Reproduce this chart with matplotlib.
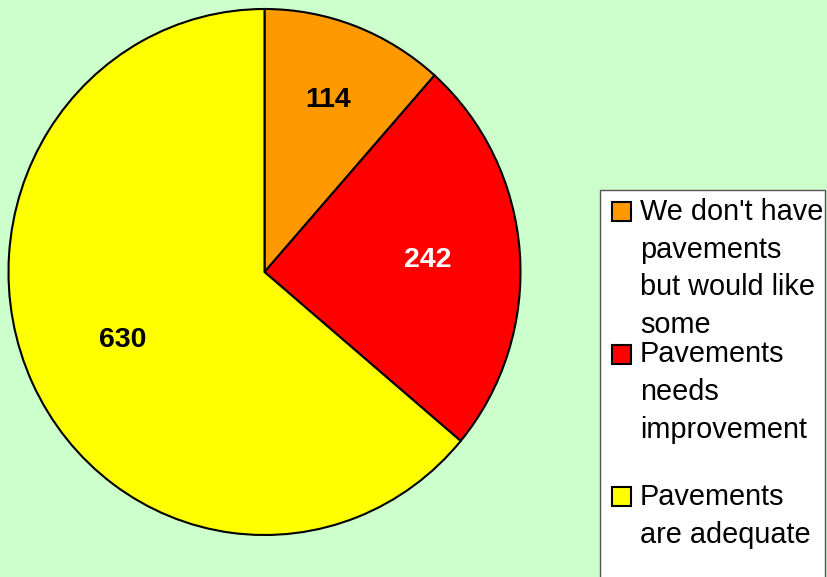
import numpy as np
import matplotlib.pyplot as plt
from matplotlib.patches import Rectangle

# survey answers
values = [114, 242, 630]
labels = ["We don't have\npavements\nbut would like\nsome",
          "Pavements\nneeds\nimprovement",
          "Pavements\nare adequate"]
colors = ["#FF9900", "#FF0000", "#FFFF00"]
label_colors = ["black", "white", "black"]

W, H = 828, 577
bg = "#CCFFCC"

fig = plt.figure(figsize=(W / 100, H / 100), dpi=100, facecolor=bg)

# pie is a bit taller than wide (as drawn by the original)
left, right, top, bottom = 8.5, 520.5, 9, 535
ax = fig.add_axes([left / W, 1 - bottom / H, (right - left) / W, (bottom - top) / H])
ax.set_facecolor(bg)
wedges, _ = ax.pie(values, colors=colors, startangle=90, counterclock=False,
                   wedgeprops=dict(edgecolor="black", linewidth=1.5))
ax.set_aspect("auto")
ax.set_xlim(-1.0, 1.0)
ax.set_ylim(-1.0, 1.0)
ax.axis("off")

# value labels inside slices
total = sum(values)
label_r = [0.70, 0.64, 0.61]
start = 0
for v, c, r in zip(values, label_colors, label_r):
    mid = (start + v / 2) / total * 2 * np.pi
    ax.text(r * np.sin(mid), r * np.cos(mid), str(v), color=c, fontsize=20.5,
            fontweight="bold", family="Liberation Sans", ha="center", va="center")
    start += v

# legend box
fig.patches.append(Rectangle((600 / W, -0.05), 225 / W, 1 - 190 / H + 0.05,
                             transform=fig.transFigure, facecolor="white",
                             edgecolor="#555555", linewidth=1.0))

entry_top = 220
entry_step = 142.5
line_step = 37.7
for i, (lab, col) in enumerate(zip(labels, colors)):
    base = entry_top + i * entry_step
    fig.patches.append(Rectangle((612 / W, 1 - (base + 1) / H), 19 / W, 19 / H,
                                 transform=fig.transFigure, facecolor=col,
                                 edgecolor="black", linewidth=1.5))
    for j, line in enumerate(lab.split("\n")):
        y = base + j * line_step
        fig.text(640 / W, 1 - y / H, line, fontsize=20.8, family="Liberation Sans",
                 ha="left", va="baseline", color="black")

fig.savefig("out.png", dpi=100, facecolor=bg)
